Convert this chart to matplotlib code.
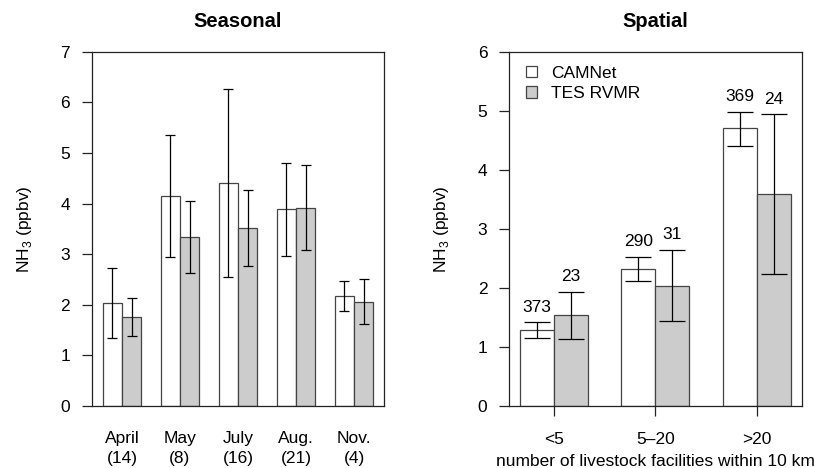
import numpy as np
import matplotlib.pyplot as plt
from matplotlib.patches import Patch

plt.rcParams['font.family'] = ['Liberation Sans', 'DejaVu Sans']
plt.rcParams['font.size'] = 12.5

# Seasonal panel
months = ['April\n(14)', 'May\n(8)', 'July\n(16)', 'Aug.\n(21)', 'Nov.\n(4)']
cam_season = [2.04, 4.15, 4.41, 3.885, 2.18]
cam_season_lo = [1.35, 2.94, 2.55, 2.96, 1.88]
cam_season_hi = [2.73, 5.35, 6.26, 4.80, 2.47]
tes_season = [1.76, 3.345, 3.52, 3.92, 2.05]
tes_season_lo = [1.38, 2.63, 2.77, 3.08, 1.62]
tes_season_hi = [2.14, 4.06, 4.27, 4.76, 2.50]

# Spatial panel
bins = ['<5', '5\u201320', '>20']
cam_space = [1.28, 2.325, 4.70]
cam_space_lo = [1.15, 2.12, 4.41]
cam_space_hi = [1.417, 2.53, 4.98]
tes_space = [1.535, 2.04, 3.584]
tes_space_lo = [1.13, 1.44, 2.23]
tes_space_hi = [1.936, 2.64, 4.94]
cam_n = [373, 290, 369]
tes_n = [23, 31, 24]

white = 'white'
gray = '#cccccc'
edge = '#444444'

fig = plt.figure(figsize=(8.14, 4.68), dpi=100)
ax1 = fig.add_axes([0.1127, 0.1325, 0.3594, 0.757])
ax2 = fig.add_axes([0.6253, 0.1325, 0.3596, 0.757])


def paired_bars(ax, a, a_lo, a_hi, b, b_lo, b_hi, capsize):
    n = len(a)
    left = 1 + 3 * np.arange(n)
    a, b = np.array(a), np.array(b)
    ax.bar(left, a, width=1, align='edge', color=white, edgecolor=edge, linewidth=0.9)
    ax.bar(left + 1, b, width=1, align='edge', color=gray, edgecolor=edge, linewidth=0.9)
    ax.errorbar(left + 0.5, a, yerr=[a - np.array(a_lo), np.array(a_hi) - a],
                fmt='none', ecolor='black', elinewidth=0.9, capsize=capsize, capthick=0.9)
    ax.errorbar(left + 1.5, b, yerr=[b - np.array(b_lo), np.array(b_hi) - b],
                fmt='none', ecolor='black', elinewidth=0.9, capsize=capsize, capthick=0.9)
    span = 3 * n - 1
    ax.set_xlim(1 - 0.04 * span, 1 + span + 0.04 * span)
    return left


def style(ax, ymax):
    ax.set_ylim(0, ymax)
    ax.set_yticks(range(ymax + 1))
    for s in ax.spines.values():
        s.set_linewidth(0.9)
        s.set_color('#222222')
    ax.tick_params(axis='y', length=7.5, width=0.9, pad=8, color='#222222')
    ax.set_ylabel('NH$_\\mathregular{3}$ (ppbv)', va='center')
    ax.yaxis.set_label_coords(-0.23, 0.5)


# left
left = paired_bars(ax1, cam_season, cam_season_lo, cam_season_hi,
                   tes_season, tes_season_lo, tes_season_hi, capsize=3.4)
style(ax1, 7)
ax1.set_xticks(left + 1)
ax1.set_xticklabels(months, linespacing=1.45)
ax1.tick_params(axis='x', length=0, pad=18)
ax1.set_title('Seasonal', fontweight='bold', fontsize=14.5, pad=18)

# right
left = paired_bars(ax2, cam_space, cam_space_lo, cam_space_hi,
                   tes_space, tes_space_lo, tes_space_hi, capsize=9.6)
style(ax2, 6)
ax2.set_xticks(left + 1)
ax2.set_xticklabels(bins)
ax2.tick_params(axis='x', length=7.5, width=0.9, pad=11.5, color='#222222')
ax2.set_xlabel('number of livestock facilities within 10 km', labelpad=4.5)
ax2.set_title('Spatial', fontweight='bold', fontsize=14.5, pad=18)

for i in range(len(bins)):
    ax2.annotate(str(cam_n[i]), (left[i] + 0.5, cam_space_hi[i]), xytext=(0, 11),
                 textcoords='offset points', ha='center', va='center')
    ax2.annotate(str(tes_n[i]), (left[i] + 1.5, tes_space_hi[i]), xytext=(0, 11),
                 textcoords='offset points', ha='center', va='center')

handles = [Patch(facecolor=white, edgecolor=edge, linewidth=0.9),
           Patch(facecolor=gray, edgecolor=edge, linewidth=0.9)]
ax2.legend(handles, ['CAMNet', 'TES RVMR'], loc='upper left', frameon=False,
           bbox_to_anchor=(0.015, 0.995), handlelength=0.65, handleheight=0.65,
           handletextpad=0.8, labelspacing=0.3, borderaxespad=0.3)

plt.savefig('out.png', dpi=100)
